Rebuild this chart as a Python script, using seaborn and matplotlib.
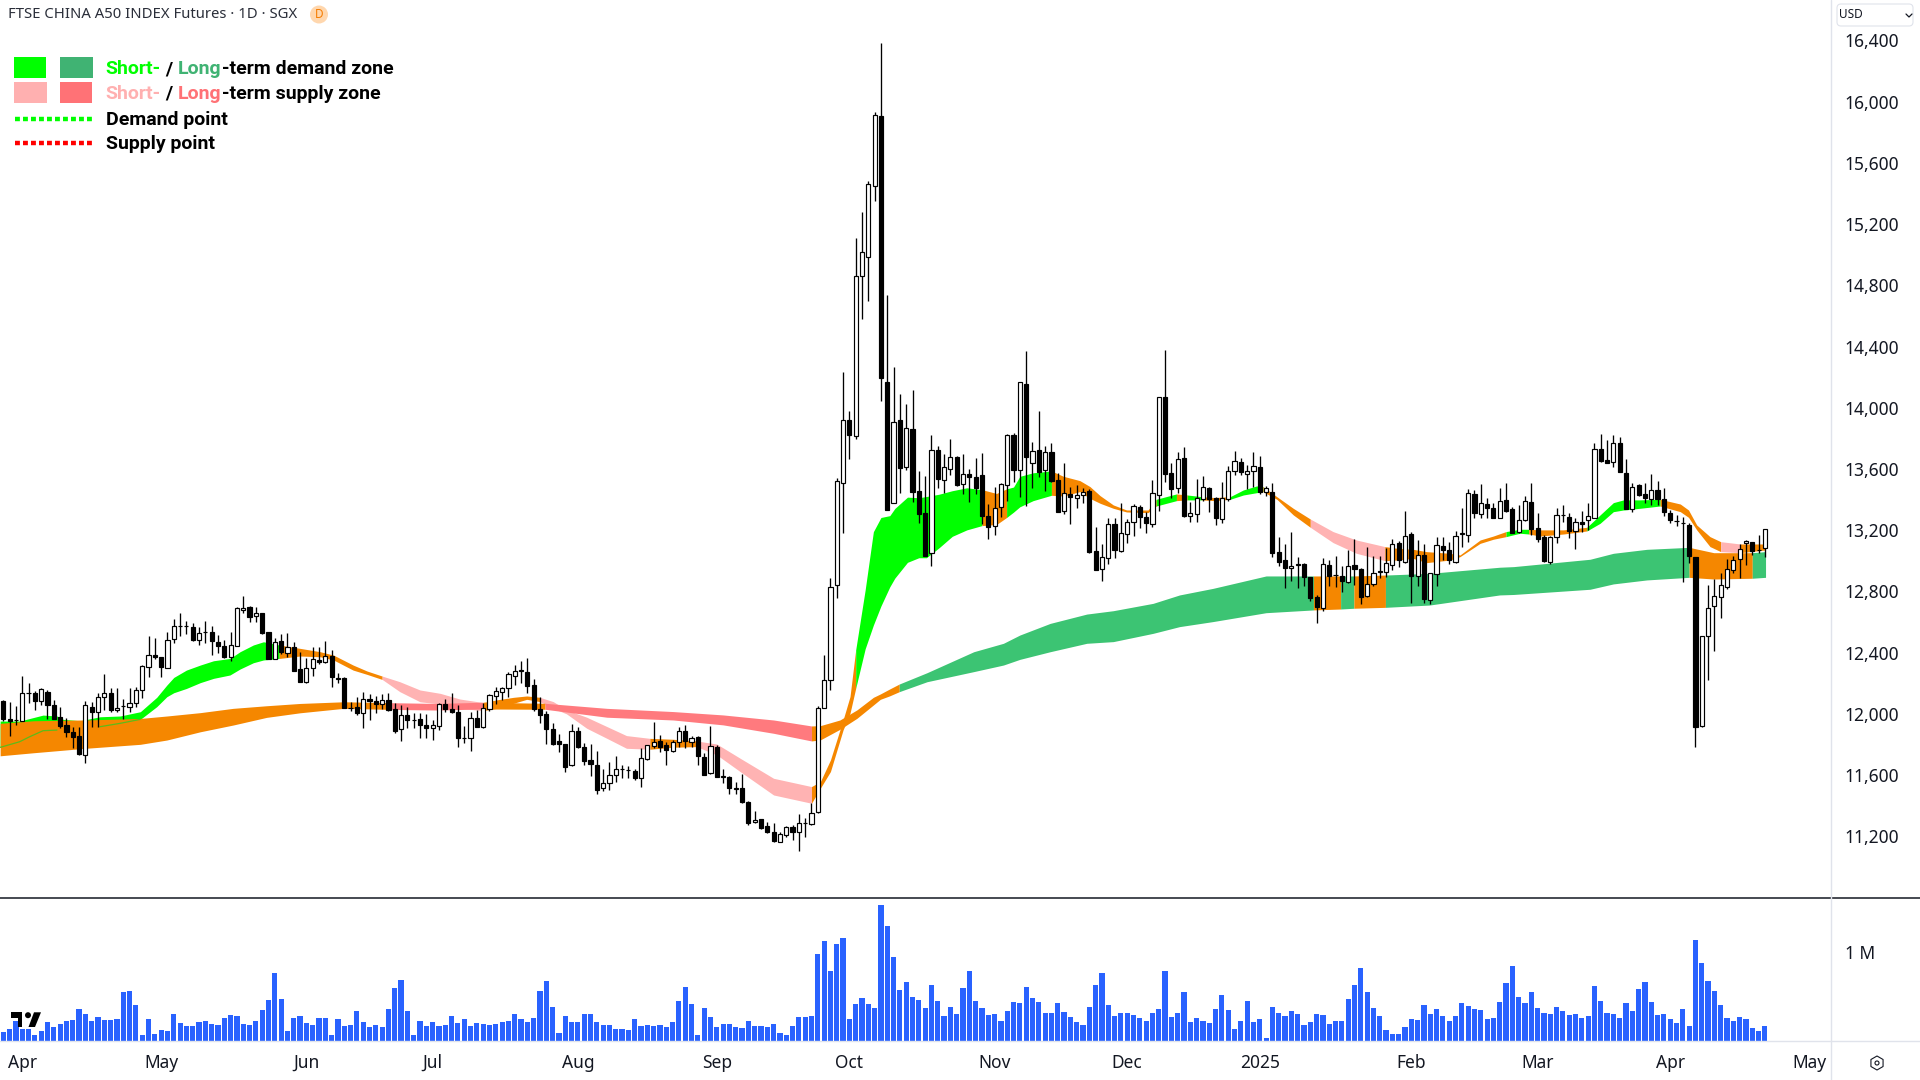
import numpy as np
import matplotlib
matplotlib.use("Agg")
import matplotlib.pyplot as plt
from matplotlib.lines import Line2D
from matplotlib.patches import Circle, Polygon, Rectangle, FancyBboxPatch, RegularPolygon
import seaborn as sns

opens = [
12086,11968,11958,11955,12136,12138,12082,12145,12058,11981,
11927,11883,11855,11729,12045,12010,12108,12138,12023,12051,
12042,12068,12156,12304,12384,12373,12301,12487,12572,12576,
12569,12482,12535,12537,12471,12445,12373,12445,12680,12700,
12639,12661,12534,12358,12476,12395,12439,12291,12210,12297,
12351,12336,12380,12232,12232,12037,12042,12003,12097,12084,
12064,12090,12029,11899,11990,11958,11964,11927,11909,11923,
12064,12032,12015,11840,11840,11971,11912,12032,12119,12141,
12167,12248,12281,12276,12189,12032,11999,11901,11823,11803,
11664,11888,11786,11699,11666,11514,11551,11603,11638,11632,
11627,11579,11708,11793,11823,11795,11760,11814,11888,11814,
11849,11718,11612,11786,11588,11588,11512,11514,11422,11292,
11311,11268,11226,11165,11207,11263,11226,11285,11278,11357,
12036,12222,12840,13510,13918,13815,14858,14982,15446,15903,
14170,13377,13918,13612,13860,13458,13314,13050,13727,13526,
13603,13675,13505,13568,13545,13563,13295,13225,13353,13493,
13820,13594,14158,13638,13727,13594,13713,13528,13323,13435,
13412,13430,13454,13066,12944,13016,13239,13067,13175,13254,
13354,13289,13239,13430,14068,13572,13474,13670,13293,13306,
13402,13474,13408,13271,13402,13587,13644,13567,13587,13611,
13450,13452,13060,13005,12951,12975,12977,12892,12762,12694,
12973,12906,12901,12864,12973,12949,12770,12851,12928,12925,
12973,13114,12995,13173,12901,13038,12742,12914,13099,13071,
12995,13178,13169,13437,13304,13371,13347,13282,13398,13337,
13186,13267,13387,13212,13154,12995,13158,13300,13289,13195,
13256,13265,13282,13731,13659,13648,13772,13576,13337,13496,
13437,13402,13463,13402,13315,13263,13250,13234,13027,11921,
12509,12707,12766,12831,12940,13012,13119,13121,13071,13082]

highs = [
12090,12079,12051,12249,12204,12149,12166,12156,12090,12042,
11970,11916,11916,12084,12079,12134,12260,12166,12171,12097,
12171,12177,12319,12508,12493,12373,12537,12620,12657,12609,
12591,12565,12609,12576,12515,12482,12532,12696,12772,12704,
12700,12661,12534,12493,12519,12530,12471,12406,12362,12434,
12439,12478,12417,12264,12238,12079,12108,12145,12129,12116,
12129,12134,12068,12058,12047,12007,12003,11999,11960,12073,
12097,12139,12058,11921,12015,12026,12069,12128,12174,12178,
12272,12320,12348,12367,12228,12108,12021,11938,11867,11803,
11934,11917,11808,11801,11758,11638,11688,11725,11666,11660,
11638,11775,11797,11945,11862,11819,11830,11917,11928,11856,
11856,11742,11921,11797,11638,11594,11557,11607,11431,11366,
11311,11296,11285,11231,11268,11274,11346,11322,11420,12052,
12385,12887,13540,14235,13976,15108,15278,15481,15931,16382,
14735,14263,14088,14023,14116,13587,13556,13820,13750,13696,
13794,13687,13696,13598,13673,13703,13370,13482,13510,13827,
13836,14170,14368,13773,13976,13750,13769,13575,13638,13482,
13493,13477,13470,13218,13108,13282,13282,13376,13271,13371,
13365,13321,13528,14068,14378,13642,13713,13742,13387,13533,
13554,13485,13419,13517,13620,13720,13670,13626,13713,13687,
13489,13511,13154,13110,13191,13027,12988,12897,12777,13016,
13005,13034,12966,13071,13140,12951,13088,13034,13034,13086,
13140,13130,13328,13191,13136,13110,12923,13158,13158,13121,
13197,13343,13467,13463,13500,13413,13376,13474,13506,13350,
13365,13424,13506,13310,13169,13162,13343,13365,13310,13278,
13326,13380,13772,13827,13790,13820,13807,13663,13506,13502,
13506,13565,13524,13474,13332,13300,13284,13245,13027,12509,
12842,12881,12923,13010,13032,13110,13136,13125,13169,13208]

lows = [
11955,11857,11927,11955,12068,12025,12058,11964,11964,11905,
11851,11774,11731,11676,11916,11912,12025,12010,12014,11964,
12010,12047,12101,12243,12356,12238,12297,12460,12508,12519,
12478,12450,12460,12382,12395,12362,12347,12443,12657,12602,
12598,12519,12358,12356,12389,12373,12280,12206,12199,12247,
12325,12330,12177,12199,12036,12021,11992,11905,11960,12003,
12029,12021,11872,11825,11905,11905,11844,11844,11829,11894,
12014,12008,11782,11812,11758,11912,11910,12021,12063,12091,
12108,12189,12200,12139,12021,11943,11801,11797,11753,11623,
11660,11780,11666,11594,11475,11499,11503,11557,11579,11579,
11568,11520,11699,11775,11749,11666,11749,11786,11780,11782,
11664,11601,11607,11588,11551,11475,11475,11420,11274,11285,
11246,11220,11163,11161,11198,11176,11106,11198,11274,11355,
12036,12156,12760,13183,13668,13797,14583,14700,15348,14042,
13330,13377,13442,13594,13384,13248,13034,12964,13475,13440,
13559,13486,13435,13384,13435,13241,13143,13167,13283,13388,
13512,13419,13360,13475,13547,13458,13517,13318,13307,13241,
13342,13377,13050,12938,12868,12979,13016,13056,13114,13165,
13212,13184,13223,13326,13517,13408,13441,13289,13252,13252,
13391,13321,13234,13245,13391,13561,13561,13469,13485,13435,
13424,13023,12966,12820,12870,12820,12838,12738,12592,12674,
12838,12831,12799,12853,12842,12716,12762,12836,12890,12897,
12940,12962,12988,12722,12836,12722,12718,12836,13005,12979,
12988,13093,13125,13282,13278,13278,13278,13278,13317,13184,
13180,13263,13169,13125,12995,12977,13114,13256,13147,13075,
13191,13201,13278,13648,13637,13615,13581,13339,13321,13426,
13380,13365,13365,13293,13250,13228,12860,12984,11786,11912,
12221,12411,12624,12818,12918,12886,12973,13038,13053,13027]

closes = [
11964,11951,11960,12138,12138,12082,12160,12055,11968,11920,
11883,11851,11735,12058,12014,12110,12134,12023,12038,12049,
12068,12158,12312,12384,12369,12308,12482,12574,12574,12574,
12482,12530,12537,12476,12443,12369,12450,12689,12693,12635,
12657,12530,12358,12467,12406,12434,12280,12206,12301,12358,
12336,12378,12238,12229,12036,12040,12003,12097,12084,12062,
12090,12025,11890,11992,11960,11960,11927,11905,11927,12062,
12029,12010,11840,11842,11971,11917,12036,12124,12152,12171,
12259,12283,12283,12182,12030,11993,11899,11803,11801,11655,
11888,11782,11695,11671,11503,11546,11601,11640,11640,11634,
11579,11710,11795,11814,11786,11764,11816,11888,11823,11845,
11725,11601,11788,11588,11590,11514,11514,11422,11285,11305,
11253,11231,11167,11213,11259,11231,11285,11287,11350,12036,
12221,12828,13524,13920,13825,14858,15015,15460,15913,14193,
13330,13909,13608,13867,13451,13307,13034,13727,13535,13610,
13680,13493,13568,13547,13477,13295,13220,13346,13505,13820,
13594,14165,13675,13720,13580,13713,13524,13318,13444,13416,
13433,13451,13055,12938,13027,13239,13071,13180,13256,13358,
13286,13245,13441,14068,13567,13469,13663,13293,13310,13408,
13485,13402,13282,13413,13589,13655,13581,13589,13622,13448,
13478,13049,12995,12951,12968,12977,12894,12755,12696,12982,
12903,12908,12866,12966,12944,12762,12851,12923,12930,12984,
13110,13005,13165,12901,13038,12749,12923,13103,13071,13005,
13165,13180,13445,13310,13380,13347,13278,13393,13326,13184,
13267,13393,13208,13145,13000,13158,13300,13296,13197,13252,
13243,13293,13731,13652,13642,13772,13581,13339,13485,13430,
13408,13463,13402,13321,13267,13259,13247,13032,11917,12509,
12690,12770,12842,12947,13006,13077,13130,13067,13068,13208]

# volume in thousands of contracts
volumes = [
102,135,226,135,135,68,113,214,158,192,226,237,361,305,226,271,237,237,248,553,
564,406,68,248,79,124,113,305,203,169,169,214,226,192,180,259,293,282,192,180,
226,350,462,767,474,113,259,282,203,180,259,259,68,248,169,180,338,214,158,180,
158,361,598,688,338,68,226,169,214,169,180,282,203,248,169,203,192,180,192,214,
226,305,248,214,259,564,677,384,90,282,214,214,305,305,214,180,180,135,135,124,248,
169,180,169,180,158,214,451,609,417,68,372,271,158,192,192,158,147,226,169,169,
158,192,90,68,169,271,271,282,981,1128,790,1094,1162,248,417,485,417,372,1534,1297,
948,575,666,496,462,372,632,451,282,384,305,598,790,451,372,293,305,226,338,440,
429,609,485,440,316,316,429,327,271,214,180,384,632,767,406,282,316,316,293,259,
226,316,361,790,271,316,553,214,259,226,203,361,519,350,135,226,451,214,248,34,384,316,
282,338,305,180,214,305,293,192,226,226,474,632,823,553,372,282,124,79,79,158,
248,237,406,305,361,282,226,282,429,395,361,350,248,259,440,654,846,496,429,553,
372,316,305,384,338,293,305,259,282,620,451,316,305,259,429,338,587,666,440,293,
305,248,203,361,169,1139,880,677,564,406,259,226,271,248,147,113,169]

month_ticks = [3, 25, 48, 68, 91, 113, 134, 157, 178, 199, 223, 243, 264, 286]
month_labels = ["Apr", "May", "Jun", "Jul", "Aug", "Sep", "Oct", "Nov", "Dec", "2025", "Feb", "Mar", "Apr", "May"]
price_ticks = [11200, 11600, 12000, 12400, 12800, 13200, 13600, 14000, 14400, 14800, 15200, 15600, 16000, 16400]

short_x = [-0.5,2.6,4.2,6.3,8.5,9.5,12.2,15.3,18.5,21.7,24.3,25.9,27,29,31.2,33.3,35.9,37.5,39.6,41.2,
           43.7,47,50.2,52.3,55.4,57.6,60,62.8,66,69.2,72.3,76,78.1,80.8,82.9,85,87.1,89.2,92.4,95.6,
           98.7,102.4,106.1,109.8,113,116.7,122,128,129.4,131,133,134.1,135,136.5,137.8,139,140.4,141.2,143.2,145,
           146.2,148.2,150.3,152.6,155,157.3,158.9,160,161,163.1,166,167.9,170.5,172.1,173.7,175.8,177.9,181.3,182.6,185.8,
           187.5,189.8,191.9,194.3,196.4,198.5,199.5,201.7,204.3,207,210.6,214.3,218.8,220.7,223.3,225.4,229.1,230.7,233.9,236,
           238,240.2,241.6,243.4,247.1,250.8,252.9,255,256.6,259.2,262.4,265.6,266.9,268.2,270.3,272,275.1,279.1]
short_top = [11953,11953,11970,11992,11986,11964,11955,11981,11986,12014,12108,12188,12238,12286,12319,12347,12362,12406,12450,12471,
             12450,12428,12406,12384,12319,12280,12247,12210,12156,12134,12097,12074,12091,12108,12117,12108,12080,12026,11978,11917,
             11858,11840,11834,11823,11803,11710,11579,11525,11557,11699,11960,12113,12418,12810,13190,13283,13295,13342,13416,13412,
             13420,13435,13458,13477,13465,13440,13470,13482,13552,13575,13587,13552,13524,13485,13426,13365,13332,13332,13402,13437,
             13430,13419,13413,13419,13463,13489,13485,13419,13343,13273,13191,13136,13093,13082,13075,13060,13049,13038,13136,13162,
             13191,13206,13206,13202,13202,13219,13300,13380,13398,13398,13402,13371,13332,13234,13158,13125,13110,13110]
short_bot = [11781,11818,11851,11890,11894,11894,11905,11916,11938,11964,12047,12112,12138,12166,12204,12232,12254,12293,12334,12352,
             12362,12378,12373,12352,12286,12258,12225,12145,12079,12064,12036,12021,12036,12069,12095,12080,12036,12000,11906,11840,
             11775,11769,11782,11786,11732,11623,11470,11416,11514,11623,11895,12004,12167,12425,12580,12705,12830,12887,12990,13020,
             13020,13085,13160,13202,13230,13237,13283,13318,13353,13393,13428,13423,13452,13408,13376,13343,13319,13315,13358,13393,
             13398,13398,13393,13402,13430,13445,13452,13402,13300,13219,13119,13049,13001,13005,13016,12988,13005,13027,13114,13141,
             13158,13180,13175,13162,13175,13195,13245,13321,13332,13343,13358,13321,13284,13202,13093,13060,13053,13071]
short_breaks = [-0.5,43.7,60,76,85,102.4,109.8,128,135,155,158.9,166,182.6,185.8,187.5,189.8,194.3,199.5,207,218.8,238,241.6,250.8,262.4,272,275.1,279.1]
short_states = "GOPOPOPOGOGOGOGOGOPOGOGOPO"

long_x = [-0.5,4.8,12.7,21.7,25.9,31.2,36.4,41.7,47,53.9,61.5,68.7,76,85.8,95.6,106.1,114,122,128,129.4,
          132.5,135.2,137.8,138.9,140.4,141.9,146.3,153.7,158.4,161,165.8,171.6,175.8,182.1,186.3,191.6,200,207.5,211.8,213.9,
          218.9,225.9,237,239.2,251.3,255,260.3,267,270.9,277,279.1]
long_top = [11938,11955,11960,11970,11986,12008,12036,12053,12068,12079,12073,12068,12076,12069,12036,12015,11993,11960,11921,11923,
            11960,12026,12108,12130,12163,12195,12269,12406,12461,12515,12591,12652,12674,12722,12777,12820,12901,12901,12901,12901,
            12907,12918,12958,12962,13010,13049,13075,13088,13053,13053,13060]
long_bot = [11726,11746,11774,11801,11829,11883,11927,11977,12007,12036,12029,12025,12032,12030,11978,11960,11928,11873,11823,11830,
            11899,11971,12058,12095,12118,12145,12210,12276,12319,12356,12406,12461,12472,12526,12570,12603,12661,12679,12685,12690,
            12696,12711,12777,12780,12814,12849,12875,12892,12881,12886,12892]
long_breaks = [-0.5,61.5,76,85.8,128,141.9,207.5,211.8,213.9,218.9,267,277,279.1]
long_states = "OROROGOGOGOG"

ZONE_COLORS = {"G": "#00FF00", "O": "#F58700", "P": "#FFB3B3"}
LONG_COLORS = {"G": "#3CC473", "O": "#F58700", "R": "#FF7A7E"}

for name, arr in [("opens", opens), ("highs", highs), ("lows", lows), ("closes", closes), ("volumes", volumes)]:
    if len(arr) != 280:
        raise ValueError(f"{name} has {len(arr)}")
for a, b in [(short_x, short_top), (short_x, short_bot), (long_x, long_top), (long_x, long_bot)]:
    if len(a) != len(b):
        raise ValueError(f"knots {len(a)} {len(b)}")

W, H = 1920, 1080
sns.set_theme(style="white")
plt.rcParams["font.family"] = ["Noto Sans", "DejaVu Sans"]
fig = plt.figure(figsize=(W / 100, H / 100), dpi=100, facecolor="white")

AXIS_X, SEP_Y, BASE_Y = 1831, 897.5, 1041
BAR_X0, BAR_DX = 3.3, 6.314
PX_PER_UNIT = 0.15306

def fx(x):
    return x / W

def fy(y):
    return 1 - y / H

ax = fig.add_axes([0, fy(SEP_Y), fx(AXIS_X), 1 - fy(SEP_Y)])
ax_vol = fig.add_axes([0, fy(BASE_Y), fx(AXIS_X), fy(SEP_Y) - fy(BASE_Y)])

bar_idx = np.arange(len(opens))
xlim = (-BAR_X0 / BAR_DX, (AXIS_X - BAR_X0) / BAR_DX)

# zones: short-term first, long-term on top
def draw_zone(axis, x, top, bot, breaks, states, colors, z):
    x, top, bot = np.array(x), np.array(top), np.array(bot)
    for i, s in enumerate(states):
        m = (x >= breaks[i]) & (x <= breaks[i + 1])
        axis.fill_between(x[m], bot[m], top[m], color=colors[s], lw=0, zorder=z)

draw_zone(ax, short_x, short_top, short_bot, short_breaks, short_states, ZONE_COLORS, 1)
draw_zone(ax, long_x, long_top, long_bot, long_breaks, long_states, LONG_COLORS, 2)

sx, sb = np.array(short_x), np.array(short_bot)
for lo_i, hi_i in [(-1, 9), (15, 22)]:
    m = (sx >= lo_i) & (sx <= hi_i)
    ax.plot(sx[m], sb[m], color="#5DBB1A", lw=0.9, zorder=3)

# candles
o, h, l, c = map(np.array, (opens, highs, lows, closes))
up = c >= o
ax.vlines(bar_idx, l, h, color="black", lw=0.95, zorder=4)
ax.bar(bar_idx, np.maximum(np.abs(c - o), 3), bottom=np.minimum(o, c), width=0.66,
       color=np.where(up, "white", "black"), edgecolor="black", lw=0.85, zorder=5)

ax.set_xlim(*xlim)
ax.set_ylim(16400 - (SEP_Y - 40.4) / PX_PER_UNIT, 16400 + 40.4 / PX_PER_UNIT)
ax.set_xticks([])
ax.yaxis.tick_right()
ax.set_yticks(price_ticks)
ax.set_yticklabels([f"{p:,}" for p in price_ticks], fontsize=12.5, color="#131722")
ax.tick_params(axis="y", length=0, pad=10)
for s in ax.spines.values():
    s.set_visible(False)

# volume
sns.barplot(x=bar_idx, y=volumes, color="#2962FF", saturation=1, width=0.82,
            native_scale=True, ax=ax_vol, linewidth=0)
ax_vol.set_xlim(*xlim)
ax_vol.set_ylim(0, (BASE_Y - SEP_Y) * 3 * 3.76)
ax_vol.set_ylabel("")
ax_vol.yaxis.tick_right()
ax_vol.set_yticks([1000])
ax_vol.set_yticklabels(["1 M"], fontsize=12.5, color="#131722")
ax_vol.set_xticks(month_ticks)
ax_vol.set_xticklabels(month_labels, fontsize=12.5, color="#131722")
ax_vol.tick_params(axis="both", length=0)
ax_vol.tick_params(axis="y", pad=10)
ax_vol.tick_params(axis="x", pad=9)
for lab in ax_vol.get_xticklabels():
    if lab.get_text() == "2025":
        lab.set_fontweight("bold")
for s in ax_vol.spines.values():
    s.set_visible(False)

# frame lines
def hline(y, x0, x1, color, lw):
    fig.add_artist(Line2D([fx(x0), fx(x1)], [fy(y), fy(y)], color=color, lw=lw, transform=fig.transFigure))

hline(SEP_Y, 0, W, "#131722", 1.1)
hline(BASE_Y, 0, W, "#E0E3EB", 1.0)
fig.add_artist(Line2D([fx(AXIS_X), fx(AXIS_X)], [0, 1], color="#E0E3EB", lw=1.0, transform=fig.transFigure))

# header
fig.text(fx(8), fy(15), "FTSE CHINA A50 INDEX Futures · 1D · SGX", fontsize=10.7, color="#2A2E39", va="center", ha="left")
fig.add_artist(Circle((319, H - 14.5), 9, transform=None, fc="#FFD7AE", ec="none"))
fig.text(fx(319), fy(14.5), "D", fontsize=8.5, color="#F57C00", va="center", ha="center")

# currency box
fig.add_artist(FancyBboxPatch((1837, H - 26), 76, 22, boxstyle="round,pad=0,rounding_size=4", transform=None,
                              fc="white", ec="#E0E3EB", lw=0.8))
fig.text(fx(1839), fy(14.5), "USD", fontsize=8.5, color="#131722", va="center", ha="left")
fig.add_artist(Line2D([1906, 1909, 1912], [H - 14, H - 17, H - 14], transform=None, color="#131722", lw=0.9))

# legend
fig.add_artist(Rectangle((14, H - 78), 32, 21, transform=None, fc="#00FF00", ec="none"))
fig.add_artist(Rectangle((60, H - 78), 33, 21, transform=None, fc="#40B373", ec="none"))
fig.add_artist(Rectangle((14, H - 103), 33, 21, transform=None, fc="#FFB0B0", ec="none"))
fig.add_artist(Rectangle((60, H - 103), 32, 21, transform=None, fc="#FF7276", ec="none"))
for y, col in [(119, "#00FF00"), (143, "#FF0000")]:
    fig.add_artist(Line2D([15, 92], [H - y, H - y], transform=None, color=col, lw=3.2,
                          linestyle=(0, (1.1, 0.7)), solid_capstyle="butt", dash_capstyle="butt"))

LEG_FONT = dict(family=["Roboto", "Liberation Sans", "DejaVu Sans"], fontsize=14, fontweight="bold",
                fontstretch="condensed", va="center", ha="left")
renderer = fig.canvas.get_renderer()

def colored_row(x, y, parts):
    for s, col in parts:
        t = fig.text(fx(x), fy(y), s, color=col, **LEG_FONT)
        x = t.get_window_extent(renderer).x1 + 0.5

colored_row(105, 69, [("Short-", "#00FF00"), ("\u00a0/\u00a0", "#000000"), ("Long", "#40B373"), ("-term demand zone", "#000000")])
colored_row(105, 94, [("Short-", "#FFB0B0"), ("\u00a0/\u00a0", "#000000"), ("Long", "#FF7276"), ("-term supply zone", "#000000")])
colored_row(106, 120, [("Demand point", "#000000")])
colored_row(106, 144, [("Supply point", "#000000")])

# TradingView mark
LOGO = "#000000"
fig.add_artist(Polygon([(11, H - 1012.3), (22.4, H - 1012.3), (22.4, H - 1027), (18.2, H - 1027), (18.2, H - 1017.5), (11, H - 1017.5)],
                       closed=True, transform=None, fc=LOGO, ec="none"))
fig.add_artist(Circle((28, H - 1015.2), 3, transform=None, fc=LOGO, ec="none"))
fig.add_artist(Polygon([(34, H - 1012.3), (41, H - 1012.3), (35, H - 1027), (28.5, H - 1027)], closed=True, transform=None, fc=LOGO, ec="none"))

# settings glyph
fig.add_artist(RegularPolygon((1877, H - 1063), 6, radius=7, transform=None, fc="none", ec="#131722", lw=0.8))
fig.add_artist(Circle((1877, H - 1063), 2, transform=None, fc="none", ec="#131722", lw=0.8))

fig.savefig("out.png", dpi=100)
